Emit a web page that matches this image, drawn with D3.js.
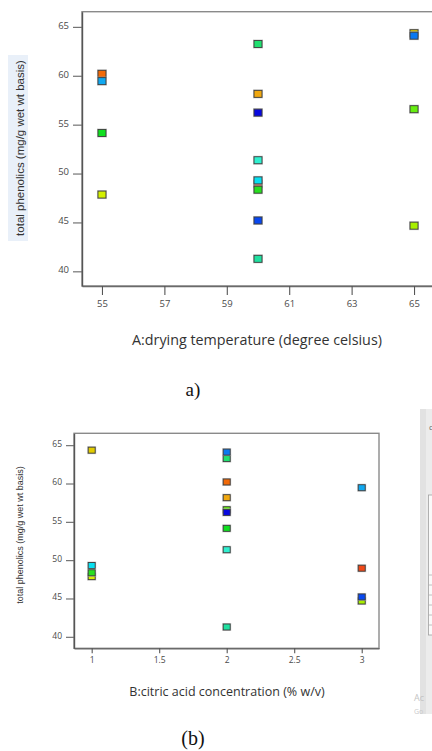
<!DOCTYPE html>
<html>
<head>
<meta charset="utf-8">
<script src="https://cdn.jsdelivr.net/npm/d3@7"></script>
<style>
  html, body { margin: 0; padding: 0; background: #fff; }
  svg { display: block; }
  .tick text { fill: #4a4a4a; font-family: "Open Sans", sans-serif; }
</style>
</head>
<body>
<div id="chart"></div>
<script>
// Box-Behnken runs (draw order keeps the overlaps like the original)
const temperature = [65, 65, 65, 55, 60, 55, 55, 55, 60, 60, 60, 60, 60, 60, 60, 60, 65];
const citricAcid  = [1, 2, 3, 1, 3, 2, 3, 2, 2, 2, 2, 2, 1, 1, 3, 2, 2];
const phenolics   = [64.35, 56.58, 44.67, 47.85, 48.95, 60.2, 59.45, 54.15, 63.25, 58.15, 56.23, 51.36, 49.3, 48.35, 45.2, 41.28, 64.1];
const runColors   = ['#e2cc00', '#66ee10', '#a8f000', '#d4f000', '#f04818', '#f26a08', '#10a8f0', '#10e020',
                     '#20e070', '#f0a810', '#0808e0', '#30f0d0', '#08e0f0', '#28e020', '#0848f0', '#20e0a0', '#0a78f0'];

const tempTicks = [55, 57, 59, 61, 63, 65];
const acidTicks = [1, 1.5, 2, 2.5, 3];
const phenTicks = [40, 45, 50, 55, 60, 65];

const yTitle = 'total phenolics (mg/g wet wt basis)';

const width = 432;
const height = 751;

const svg = d3.select('#chart')
  .append('svg')
  .attr('width', width)
  .attr('height', height);

const runs = phenolics.map((v, i) => ({ temp: temperature[i], acid: citricAcid[i], value: v, color: runColors[i] }));

function drawPanel(opt) {
  const g = svg.append('g');
  const x = d3.scaleLinear().domain(opt.xDomain).range([opt.left, opt.right]);
  const y = d3.scaleLinear().domain([38.5, 66.55]).range([opt.bottom, opt.top]);

  if (opt.labelBg) {
    g.append('rect')
      .attr('x', opt.labelBg[0]).attr('y', opt.labelBg[1])
      .attr('width', opt.labelBg[2]).attr('height', opt.labelBg[3])
      .attr('fill', '#e9f0f9');
  }

  // frame
  g.append('rect')
    .attr('x', opt.left).attr('y', opt.top)
    .attr('width', opt.right - opt.left).attr('height', opt.bottom - opt.top)
    .attr('fill', '#fff')
    .attr('stroke', '#8a8a8a')
    .attr('stroke-width', 1.4);

  const xAxis = g.append('g')
    .attr('transform', `translate(0,${opt.bottom})`)
    .call(d3.axisBottom(x).tickValues(opt.xTicks).tickFormat(d3.format('~g'))
      .tickSize(opt.xTickSize).tickPadding(opt.xPad).tickSizeOuter(0));
  xAxis.select('.domain').attr('stroke', '#6a6a6a').attr('stroke-width', 1.4);
  xAxis.selectAll('.tick line').attr('stroke', '#555').attr('stroke-width', 1.1);
  xAxis.selectAll('.tick text').attr('font-size', opt.tickFont);

  const yAxis = g.append('g')
    .attr('transform', `translate(${opt.left},0)`)
    .call(d3.axisLeft(y).tickValues(phenTicks).tickSize(opt.yTickSize).tickPadding(4).tickSizeOuter(0));
  yAxis.select('.domain').attr('stroke', '#555').attr('stroke-width', 1.4);
  yAxis.selectAll('.tick line').attr('stroke', '#666').attr('stroke-width', 1.1);
  yAxis.selectAll('.tick text').attr('font-size', opt.tickFont).attr('dy', '0.15em');

  // points
  const pts = g.append('g').selectAll('g')
    .data(runs)
    .join('g')
    .attr('transform', d => `translate(${x(d[opt.key])},${y(d.value)})`);
  pts.append('rect')
    .attr('x', -opt.mw / 2 - 1).attr('y', -opt.mh / 2 - 1)
    .attr('width', opt.mw + 2).attr('height', opt.mh + 2)
    .attr('fill', '#b8b8b8').attr('opacity', 0.7);
  pts.append('rect')
    .attr('x', -opt.mw / 2).attr('y', -opt.mh / 2)
    .attr('width', opt.mw).attr('height', opt.mh)
    .attr('fill', d => d.color)
    .attr('stroke', '#3c3c3c')
    .attr('stroke-width', 0.9);

  g.append('text')
    .attr('x', opt.xTitlePos[0]).attr('y', opt.xTitlePos[1])
    .attr('text-anchor', 'middle')
    .attr('font-family', '"Open Sans", sans-serif')
    .attr('font-size', opt.xTitleFont)
    .attr('fill', '#333')
    .text(opt.xTitle);

  g.append('text')
    .attr('transform', `translate(${opt.yTitlePos[0]},${opt.yTitlePos[1]}) rotate(-90)`)
    .attr('text-anchor', 'middle')
    .attr('font-family', '"Liberation Sans", Arial, sans-serif')
    .attr('font-size', opt.yTitleFont)
    .attr('fill', '#333')
    .text(yTitle);

  g.append('text')
    .attr('x', 193).attr('y', opt.captionY)
    .attr('text-anchor', 'middle')
    .attr('font-family', '"Liberation Serif", "Times New Roman", serif')
    .attr('font-size', opt.captionFont)
    .attr('fill', '#111')
    .text(opt.caption);
}

drawPanel({
  key: 'temp', xDomain: [54.36, 65.64], xTicks: tempTicks,
  left: 82, right: 434, top: 11.7, bottom: 286,
  xTickSize: 9, xPad: 5, yTickSize: 9, tickFont: 9.5,
  mw: 8, mh: 7,
  xTitle: 'A:drying temperature (degree celsius)', xTitlePos: [257, 345], xTitleFont: 14.3,
  yTitlePos: [24, 148], yTitleFont: 11.5, labelBg: [8, 55, 20, 186],
  caption: 'a)', captionY: 396, captionFont: 19
});

drawPanel({
  key: 'acid', xDomain: [0.869, 3.128], xTicks: acidTicks,
  left: 74, right: 379, top: 433.3, bottom: 648.3,
  xTickSize: 5, xPad: 4, yTickSize: 8, tickFont: 8.5,
  mw: 7, mh: 6,
  xTitle: 'B:citric acid concentration (% w/v)', xTitlePos: [227, 696], xTitleFont: 12.5,
  yTitlePos: [23, 535], yTitleFont: 9,
  caption: '(b)', captionY: 745, captionFont: 20
});

// partial software window at the right edge
const side = svg.append('g');
side.append('rect').attr('x', 420).attr('y', 409).attr('width', 12).attr('height', 305).attr('fill', '#ececec');
side.append('rect').attr('x', 420).attr('y', 409).attr('width', 6).attr('height', 305).attr('fill', '#e2e2e2');
side.append('rect').attr('x', 428.5).attr('y', 495).attr('width', 8).attr('height', 140)
  .attr('fill', '#fafafa').attr('stroke', '#a0a0a0').attr('stroke-width', 0.8);
side.selectAll('line.row')
  .data([575, 585, 595, 605, 615, 625])
  .join('line')
  .attr('x1', 428.5).attr('x2', 432).attr('y1', d => d).attr('y2', d => d)
  .attr('stroke', '#b0b0b0').attr('stroke-width', 0.8);
side.append('text').attr('x', 429).attr('y', 430).attr('font-size', 8).attr('fill', '#666')
  .attr('font-family', '"Open Sans", sans-serif').text('c');
side.append('text').attr('x', 414).attr('y', 701).attr('font-size', 9).attr('fill', '#c4c4c4')
  .attr('font-family', '"Open Sans", sans-serif').text('Ac');
side.append('text').attr('x', 414).attr('y', 714).attr('font-size', 7).attr('fill', '#cacaca')
  .attr('font-family', '"Open Sans", sans-serif').text('Go');
</script>
</body>
</html>
